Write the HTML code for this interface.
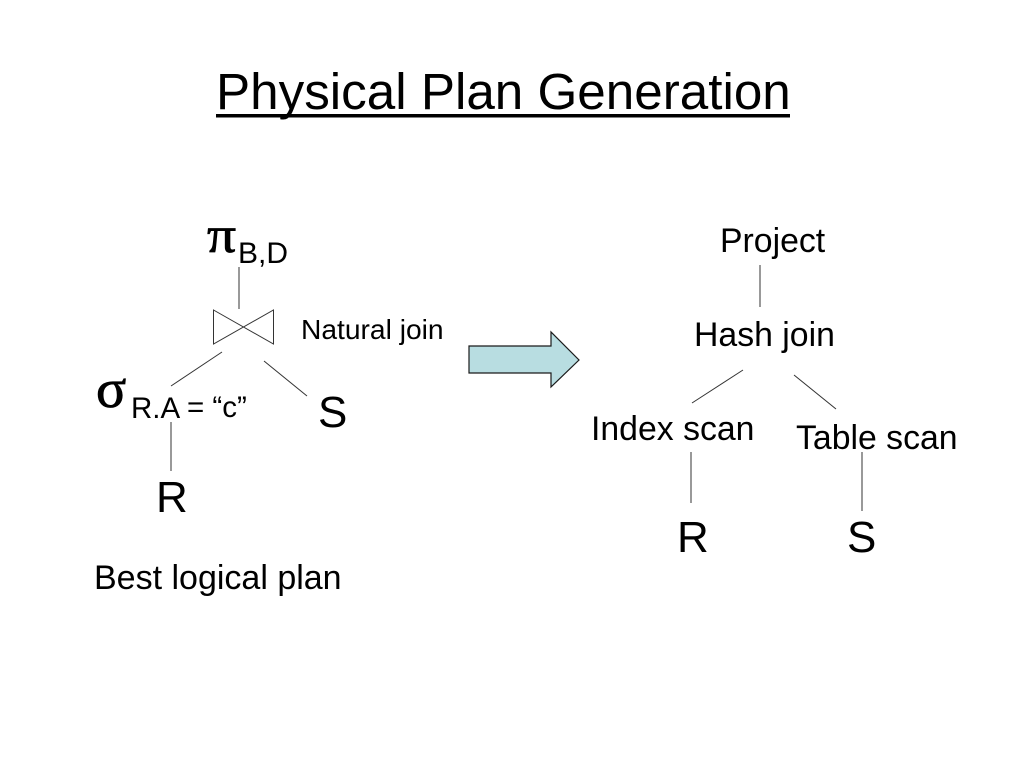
<!DOCTYPE html>
<html>
<head>
<meta charset="utf-8">
<style>
html,body{margin:0;padding:0;background:#fff;width:1024px;height:768px;overflow:hidden}
svg{display:block}
text{font-family:"Liberation Sans",sans-serif;fill:#000}
.g{font-family:"Liberation Serif",serif;stroke:#000;stroke-width:.7}
</style>
</head>
<body>
<svg width="1024" height="768" viewBox="0 0 1024 768" xmlns="http://www.w3.org/2000/svg">
<rect width="1024" height="768" fill="#fff"/>
<text x="216" y="109" font-size="51.200">Physical Plan Generation</text>
<rect x="216" y="114" width="574" height="3.500" fill="#000"/>

<text class="g" transform="translate(207,252) scale(1.2,1.05)" font-size="48">π</text>
<text x="238" y="263" font-size="30">B,D</text>
<text x="301" y="339" font-size="28.200">Natural join</text>
<text class="g" transform="translate(96,407) scale(1.17,1.15)" font-size="48">σ</text>
<text x="131" y="418" font-size="29.500">R.A</text>
<text x="187" y="417" font-size="29.500">= “c”</text>
<text x="318" y="427" font-size="44">S</text>
<text x="156" y="512" font-size="44">R</text>
<text x="94" y="589" font-size="34">Best logical plan</text>

<g stroke="#333" stroke-width="1" fill="none">
<line x1="239" y1="267" x2="239" y2="309"/>
<path d="M213.500 310 L273.500 344 L273.500 310 L213.500 344 Z"/>
<line x1="222" y1="352" x2="171" y2="386"/>
<line x1="264" y1="361" x2="307" y2="396"/>
<line x1="171" y1="422" x2="171" y2="471"/>
<line x1="760" y1="265" x2="760" y2="307"/>
<line x1="743" y1="370" x2="692" y2="403"/>
<line x1="794" y1="375" x2="836" y2="409"/>
<line x1="691" y1="452" x2="691" y2="503"/>
<line x1="862" y1="452" x2="862" y2="511"/>
</g>

<path d="M469 346 H551 V332 L579 360 L551 387 V373 H469 Z" fill="#b8dde1" stroke="#1a1a1a" stroke-width="1.200"/>

<text x="720" y="252" font-size="33.800">Project</text>
<text x="694" y="346" font-size="33.800">Hash join</text>
<text x="591" y="440" font-size="33.800">Index scan</text>
<text x="796" y="449" font-size="33.800">Table scan</text>
<text x="677" y="552" font-size="44">R</text>
<text x="847" y="552" font-size="44">S</text>
</svg>
</body>
</html>
